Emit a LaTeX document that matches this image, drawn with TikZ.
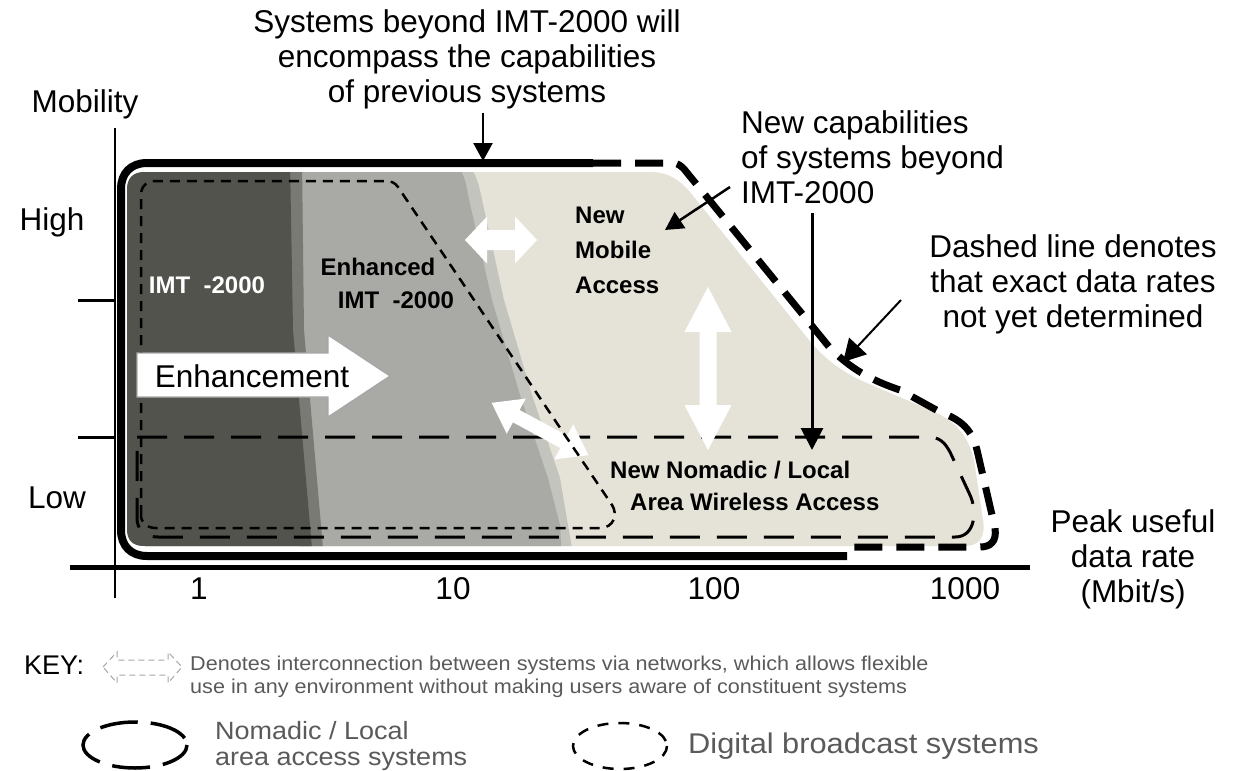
\documentclass[tikz,border=0pt]{standalone}
\usepackage{fontspec}
\setmainfont{Liberation Sans}
\newfontfamily\keywide[FakeStretch=1.08]{Liberation Sans}
\usetikzlibrary{arrows.meta}

\definecolor{darkzone}{HTML}{52534C}
\definecolor{darkedge}{HTML}{7A7A75}
\definecolor{midzone}{HTML}{A9A9A5}
\definecolor{bandzone}{HTML}{C4C4BF}
\definecolor{lightzone}{HTML}{E5E3D7}
\definecolor{keygrey}{HTML}{5A5A5A}

\tikzset{
  axisline/.style={line width=5pt},
  thinaxis/.style={line width=2.5pt},
  outerline/.style={line width=8pt},
  outerdash/.style={line width=7pt, dash pattern=on 28pt off 14pt},
  nomadic/.style={line width=3pt, dash pattern=on 30pt off 17pt},
  broadcast/.style={line width=2.5pt, dash pattern=on 10pt off 7pt},
  label/.style={font=\fontsize{31.5}{35}\selectfont, inner sep=0pt, align=center},
  boldlabel/.style={font=\fontsize{24}{35}\selectfont\bfseries, inner sep=0pt, align=left},
  keytext/.style={font=\keywide\fontsize{20}{23}\selectfont, text=keygrey, inner sep=0pt, align=left},
  keylabel/.style={font=\keywide\fontsize{25}{26}\selectfont, text=keygrey, inner sep=0pt, align=left},
  pointer/.style={line width=2.5pt, -{Triangle[length=18pt,width=19pt]}},
  whitearrow/.style={fill=white, draw=none},
}

\begin{document}
\begin{tikzpicture}[x=1pt,y=-1pt]
\useasboundingbox (0,0) rectangle (1237,771);

% ---- shaded capability regions ----
\def\regionpath{(145,546) .. controls (132,546) and (127,540) .. (127,528)
  -- (127,190) .. controls (127,178) and (133,172) .. (145,172)
  -- (650,172) .. controls (668,172) and (680,180) .. (690,192)
  -- (805,335) .. controls (818,352) and (835,368) .. (860,380)
  -- (930,410) .. controls (955,420) and (968,435) .. (974,460)
  -- (983,520) .. controls (986,538) and (978,546) .. (965,546) -- cycle}
\fill[lightzone] \regionpath;
\begin{scope}
  \clip \regionpath;
  % Enhanced IMT-2000 zone with its soft outer band
  \fill[bandzone] (280,160) -- (462,160) .. controls (474,168) and (478,180) .. (481,195)
    -- (504,300) -- (532,395) -- (560,478) -- (574,560) -- (300,560) -- cycle;
  \fill[midzone] (280,160) -- (452,160) .. controls (462,168) and (466,180) .. (468,195)
    -- (492,300) -- (520,395) -- (548,478) -- (560,525) -- (562,560) -- (300,560) -- cycle;
  % IMT-2000 zone
  \fill[darkedge] (120,160) -- (302,160) -- (304,330) -- (324,560) -- (120,560) -- cycle;
  \fill[darkzone] (120,160) -- (290,160) -- (293,330) -- (313,560) -- (120,560) -- cycle;
\end{scope}

% ---- axes ----
\draw[thinaxis] (115,128) -- (115,598);
\draw[axisline] (70,567) -- (1030,567);
\draw[line width=3pt] (78,300) -- (115,300);
\draw[line width=3pt] (78,437) -- (115,437);

% ---- outer boundary of systems beyond IMT-2000 ----
\draw[outerline] (593,163) -- (147,163) .. controls (131,163) and (121,173) .. (121,189)
  -- (121,530) .. controls (121,546) and (131,556) .. (147,556) -- (847,556);
\draw[outerdash] (593,163) -- (672,163) .. controls (678,163) and (681,166) .. (684,169)
  -- (830,348) .. controls (850,368) and (870,380) .. (900,390)
  -- (940,412) .. controls (962,420) and (972,430) .. (977,450)
  -- (995,528) .. controls (997,542) and (990,547) .. (980,547) -- (847,547);

% ---- nomadic / local area access (long dashes) ----
\draw[nomadic] (137,437) -- (928,437) .. controls (940,437) and (945,443) .. (950,452)
  -- (970,495) .. controls (977,510) and (976,537) .. (955,537) -- (158,537)
  .. controls (145,537) and (137,530) .. (137,518) -- cycle;

% ---- white interconnection arrows ----
\fill[whitearrow] (465,240) -- (487,216.5) -- (487,230) -- (515,230) -- (515,216.5)
  -- (537,240) -- (515,263.5) -- (515,250) -- (487,250) -- (487,263.5) -- cycle;
\fill[whitearrow] (708,287) -- (731.5,332) -- (716.5,332) -- (716.5,405) -- (731.5,405)
  -- (708,450) -- (684.5,405) -- (699.5,405) -- (699.5,332) -- (684.5,332) -- cycle;
\begin{scope}[shift={(540,429)}, rotate=-28.4]
  \fill[whitearrow] (-55,0) -- (-27,-20) -- (-27,-7) -- (27,-7) -- (27,-20)
    -- (55,0) -- (27,20) -- (27,7) -- (-27,7) -- (-27,20) -- cycle;
\end{scope}

% ---- digital broadcast (short dashes) ----
\draw[broadcast] (141,515) -- (141,195) .. controls (141,186) and (147,181) .. (156,181)
  -- (385,181) .. controls (392,181) and (395,183) .. (398,187)
  -- (612,505) .. controls (618,514) and (614,528) .. (600,528)
  -- (156,528) .. controls (147,528) and (141,523) .. (141,515);

% ---- enhancement arrow ----
\draw[fill=white, draw=gray!70, line width=1.2pt] (137,353) -- (328,353) -- (328,335)
  -- (390,376) -- (328,417) -- (328,397) -- (137,397) -- cycle;
\node[label, anchor=center] (enh) at (252,376) {Enhancement};

% ---- region labels ----
\node[boldlabel, text=white] (imt) at (207,285) {IMT\ \ -2000};
\node[boldlabel] (enhanced) at (378,267) {Enhanced};
\node[boldlabel] (enhimt) at (396,300) {IMT\ \ -2000};
\node[boldlabel, anchor=west] (mobile) at (575,250) {New\\Mobile\\Access};
\node[boldlabel, anchor=west] (nomad1) at (610,470) {New Nomadic / Local};
\node[boldlabel, anchor=west] (nomad2) at (630,502) {Area Wireless Access};

% ---- axis labels ----
\node[label] (mobility) at (85,104) {Mobility};
\node[label] (high) at (52,222) {High};
\node[label] (low) at (57,498) {Low};
\node[label] (t1) at (199,589) {1};
\node[label] (t10) at (453,589) {10};
\node[label] (t100) at (714,589) {100};
\node[label] (t1000) at (965,589) {1000};
\node[label] (rate) at (1133,559) {Peak useful\\data rate\\(Mbit/s)};

% ---- annotations ----
\node[label] (title) at (467,59) {Systems beyond IMT-2000 will\\encompass the capabilities\\of previous systems};
\coordinate (ta1) at (483,113);
\coordinate (ta2) at (483,161);
\draw[pointer] (ta1) -- (ta2);

\node[label, anchor=west, align=left] (newcap) at (741,157) {New capabilities\\of systems beyond\\IMT-2000};
\coordinate (nc1) at (730,187);
\coordinate (nc2) at (665,230);
\draw[pointer] (nc1) -- (nc2);
\coordinate (vc1) at (812,213);
\coordinate (vc2) at (812,450);
\draw[line width=3pt, -{Triangle[length=22pt,width=22pt]}] (vc1) -- (vc2);

\node[label] (dashnote) at (1073,284) {Dashed line denotes\\that exact data rates\\not yet determined};
\coordinate (dn1) at (901,300);
\coordinate (dn2) at (843,362);
\draw[line width=2pt, -{Triangle[length=22pt,width=24pt]}] (dn1) -- (dn2);

% ---- key ----
\node[font=\fontsize{27}{27}\selectfont, inner sep=0pt, anchor=west] (key) at (24,665) {KEY:};
\draw[gray!70, line width=1pt, dash pattern=on 6pt off 4pt]
  (103,667) -- (117,652) -- (117,660) -- (168,660) -- (168,652) -- (182,667)
  -- (168,683) -- (168,675) -- (117,675) -- (117,683) -- cycle;
\node[keytext, anchor=west] (keynote) at (190,677) {Denotes interconnection between systems via networks, which allows flexible\\use in any environment without making users aware of constituent systems};

\draw[line width=3.5pt, dash pattern=on 38pt off 13pt, dash phase=5pt] (135,745) ellipse [x radius=52, y radius=23];
\node[keylabel, anchor=west] (keynomad) at (215,746) {Nomadic / Local\\area access systems};
\draw[line width=2.5pt, dash pattern=on 11pt off 10pt] (620,746) ellipse [x radius=47, y radius=23];
\node[keylabel, anchor=west, font=\keywide\fontsize{28.5}{28.5}\selectfont] (keybcast) at (688,746) {Digital broadcast systems};
\end{tikzpicture}
\end{document}
